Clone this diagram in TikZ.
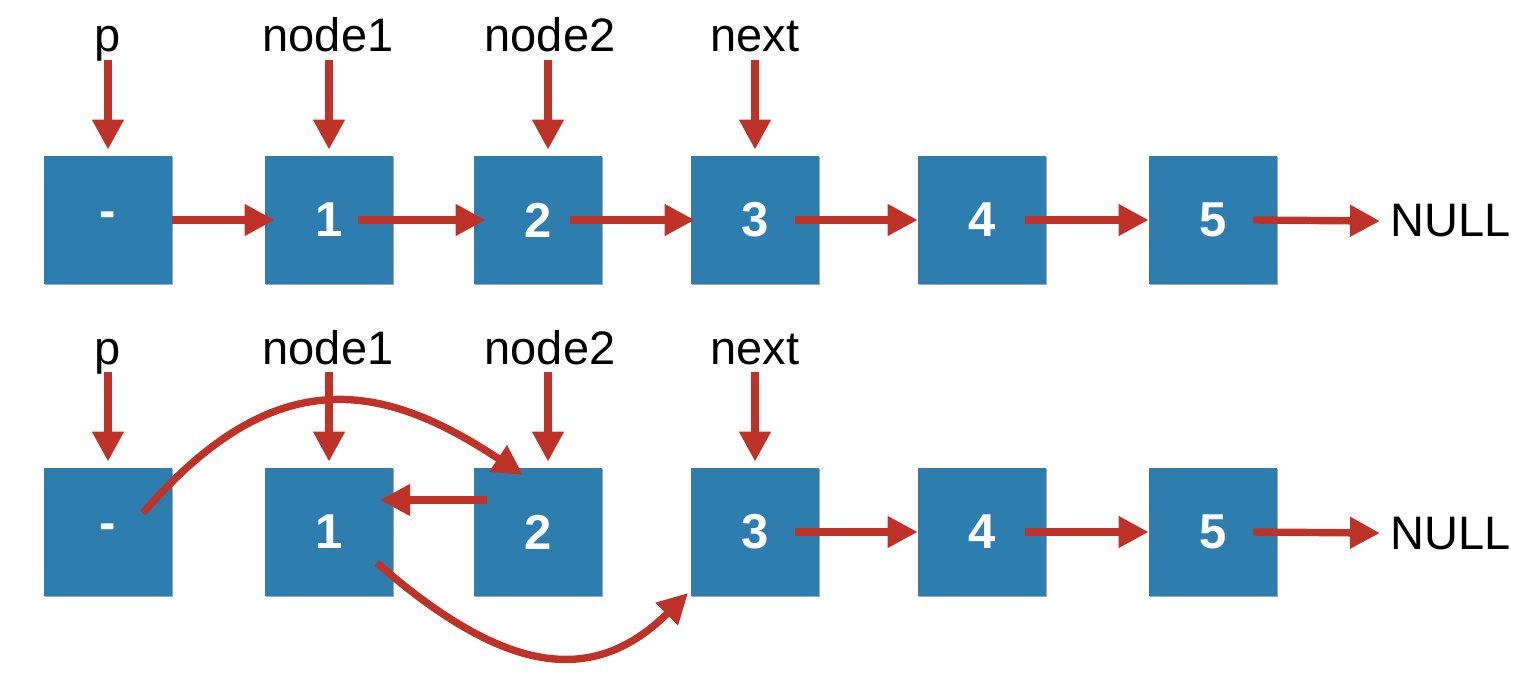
\documentclass[tikz,border=0pt]{standalone}
\usepackage{fontspec}
\setmainfont{Liberation Sans}
\usetikzlibrary{arrows.meta,calc,shadows}
\definecolor{boxblue}{RGB}{46,125,175}
\definecolor{arrred}{RGB}{190,50,40}
\begin{document}
\begin{tikzpicture}[x=0.5pt,y=-0.5pt,
 box/.style={fill=boxblue, minimum width=64pt, minimum height=64pt, inner sep=0pt, text=white,
   font=\fontsize{24.5}{28}\selectfont\bfseries,
   drop shadow={shadow xshift=0.6pt,shadow yshift=-0.6pt,opacity=0.35,fill=black}},
 lbl/.style={anchor=base, font=\fontsize{23.5}{28}\selectfont, inner sep=0pt},
 ptr/.style={draw=arrred, color=arrred, line width=3.7pt, -{Triangle[length=15pt,width=15pt]}}]
\useasboundingbox (0,0) rectangle (1534,689);

% ---------- top row ----------
\node[box] (a0) at (108,220) {-};
\node[box] (a1) at (329,220) {1};
\node[box] (a2) at (538,220) {2};
\node[box] (a3) at (755,220) {3};
\node[box] (a4) at (982,220) {4};
\node[box] (a5) at (1213,220) {5};
\node[lbl, anchor=base west] (an) at (1390,237) {NULL};

\node[lbl] (ap) at (108,52) {p};
\node[lbl] (aq1) at (328,52) {node1};
\node[lbl] (aq2) at (550,52) {node2};
\node[lbl] (anx) at (755,52) {next};

\draw[ptr] ($(ap.base)+(0,8)$) -- ($(ap.base |- a0.north)+(0,-6)$);
\draw[ptr] ($(a1.center |- aq1.base)+(0,8)$) -- ($(a1.north)+(0,-6)$);
\draw[ptr] ($(aq2.base)+(-2,8)$) -- ($(aq2.base |- a2.north)+(-2,-6)$);
\draw[ptr] ($(anx.base)+(0,8)$) -- ($(anx.base |- a3.north)+(0,-6)$);

\draw[ptr] (a0.east) -- ($(a1.west)+(10,0)$);
\draw[ptr] ($(a1.center)+(29,0)$) -- ($(a2.west)+(12,0)$);
\draw[ptr] ($(a2.center)+(32,0)$) -- ($(a3.west)+(4,0)$);
\draw[ptr] ($(a3.center)+(40,0)$) -- (a4.west);
\draw[ptr] ($(a4.center)+(43,0)$) -- (a5.west);
\draw[ptr] ($(a5.center)+(40,0)$) -- ($(an.west)+(-10,0)$);

% ---------- bottom row ----------
\node[box] (b0) at (108,532) {-};
\node[box] (b1) at (329,532) {1};
\node[box] (b2) at (538,532) {2};
\node[box] (b3) at (755,532) {3};
\node[box] (b4) at (982,532) {4};
\node[box] (b5) at (1213,532) {5};
\node[lbl, anchor=base west] (bn) at (1390,549) {NULL};

\node[lbl] (bp) at (108,364) {p};
\node[lbl] (bq1) at (328,364) {node1};
\node[lbl] (bq2) at (550,364) {node2};
\node[lbl] (bnx) at (755,364) {next};

\draw[ptr] ($(bp.base)+(0,8)$) -- ($(bp.base |- b0.north)+(0,-6)$);
\draw[ptr] ($(b1.center |- bq1.base)+(0,8)$) -- ($(b1.north)+(0,-6)$);
\draw[ptr] ($(bq2.base)+(-2,8)$) -- ($(bq2.base |- b2.north)+(-2,-6)$);
\draw[ptr] ($(bnx.base)+(0,8)$) -- ($(bnx.base |- b3.north)+(0,-6)$);

\draw[ptr] ($(b2.center)+(-51,-32)$) -- ($(b1.center)+(51,-32)$);
\draw[ptr] ($(b3.center)+(40,0)$) -- (b4.west);
\draw[ptr] ($(b4.center)+(43,0)$) -- (b5.west);
\draw[ptr] ($(b5.center)+(40,0)$) -- ($(bn.west)+(-10,0)$);

\draw[ptr] ($(b0.center)+(35,-19)$) .. controls (275,360) and (383,382) .. ($(b2.center)+(-15,-57)$);
\draw[ptr] ($(b1.center)+(48,31)$) .. controls (500,670) and (590,690) .. ($(b3.center)+(-67,61)$);
\end{tikzpicture}
\end{document}
